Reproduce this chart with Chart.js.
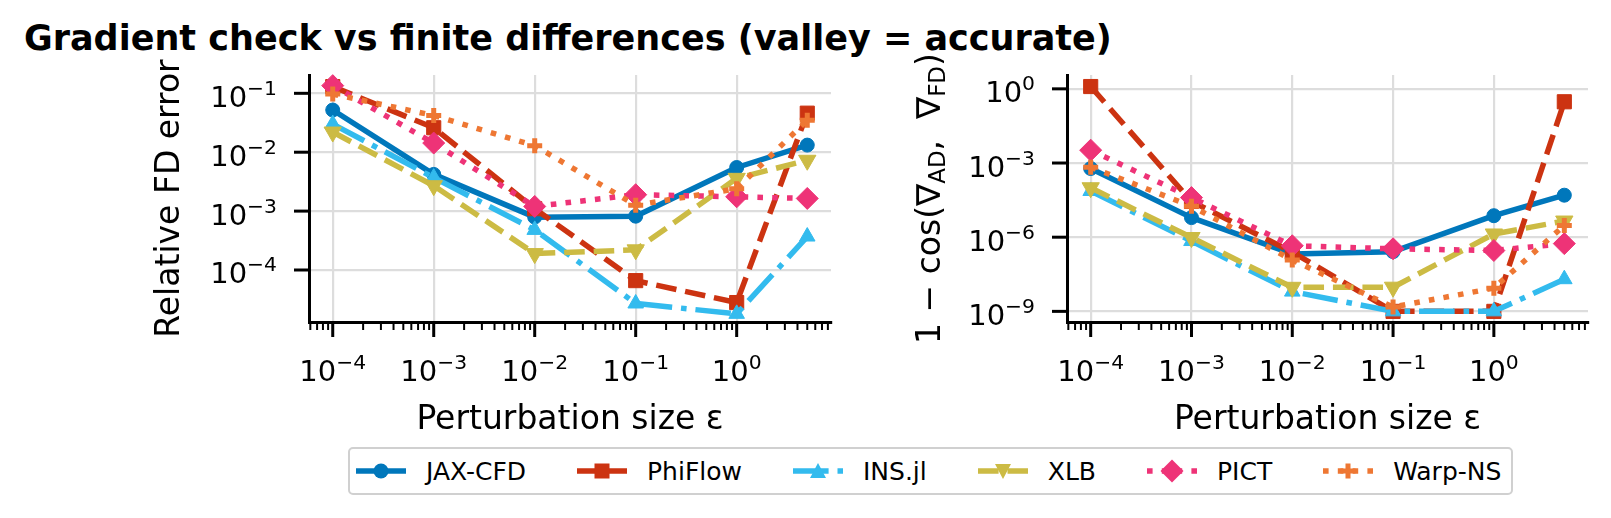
<!DOCTYPE html>
<html>
<head>
<meta charset="utf-8">
<script src="https://cdn.jsdelivr.net/npm/chart.js@4.4.1/dist/chart.umd.min.js"></script>
<style>
html,body{margin:0;padding:0;background:#fff;}
#wrap{position:relative;width:1611px;height:518px;overflow:hidden;font-family:'DejaVu Sans',sans-serif;color:#000;}
#title{position:absolute;left:24px;top:21px;font-size:35px;line-height:35px;font-weight:bold;white-space:nowrap;}
canvas{position:absolute;}
#legend{position:absolute;left:348px;top:447px;height:48px;display:flex;align-items:center;border:2px solid #d0d0d0;border-radius:5px;padding:0 10px 0 6px;box-sizing:border-box;background:#fff;}
.item{display:flex;align-items:center;margin-right:51px;font-size:25px;white-space:nowrap;}
.item:last-child{margin-right:0;}
.item svg{margin-right:20px;display:block;}
</style>
</head>
<body>
<div id="wrap">
  <div id="title">Gradient check vs finite differences (valley = accurate)</div>
  <canvas id="left" width="860" height="440" style="left:0;top:0;width:860px;height:440px;"></canvas>
  <canvas id="right" width="731" height="440" style="left:880px;top:0;width:731px;height:440px;"></canvas>
  <div id="legend"></div>
</div>
<script>
// ---------------- data ----------------
const epsilons = [1e-4, 1e-3, 1e-2, 1e-1, 1, 5];
const seriesNames = ['JAX-CFD', 'PhiFlow', 'INS.jl', 'XLB', 'PICT', 'Warp-NS'];

// Left panel: relative FD error
const jaxFd  = [0.052, 0.0042, 0.00079, 0.00082, 0.0055, 0.0132];
const phiFd  = [0.13, 0.026, 0.0011, 0.000066, 0.000028, 0.046];
const insFd  = [0.030, 0.0037, 0.00048, 0.000027, 0.000018, 0.00037];
const xlbFd  = [0.022, 0.0027, 0.00019, 0.00022, 0.0036, 0.0073];
const pictFd = [0.135, 0.0143, 0.0012, 0.0019, 0.00175, 0.00164];
const warpFd = [0.097, 0.042, 0.0129, 0.00126, 0.0024, 0.035];

// Right panel: 1 - cos(grad_AD, grad_FD)
const jaxCos  = [6e-4, 6.2e-6, 2.1e-7, 2.6e-7, 7.4e-6, 5e-5];
const phiCos  = [1.24, 2.8e-5, 2.5e-7, 1e-9, 1e-9, 0.3];
const insCos  = [7.4e-5, 7e-7, 6.3e-9, 1e-9, 1e-9, 2e-8];
const xlbCos  = [1e-4, 9.7e-7, 9.4e-9, 9.5e-9, 1.35e-6, 4.5e-6];
const pictCos = [3.3e-3, 4e-5, 4.5e-7, 3.4e-7, 2.9e-7, 5.5e-7];
const warpCos = [6.8e-4, 1.8e-5, 1.2e-7, 1.5e-9, 8.7e-9, 3e-6];

// ticks (label = "10" with a superscript exponent)
const tickBase = '10';
const xMajorTicks     = [1e-4, 1e-3, 1e-2, 1e-1, 1];
const xMajorExponents = ['−4', '−3', '−2', '−1', '0'];
const leftYTicks      = [1e-4, 1e-3, 1e-2, 1e-1];
const leftYExponents  = ['−4', '−3', '−2', '−1'];
const rightYTicks     = [1e-9, 1e-6, 1e-3, 1];
const rightYExponents = ['−9', '−6', '−3', '0'];

// text
const titleText = 'Gradient check vs finite differences (valley = accurate)';
const xTitle = 'Perturbation size ε';
const leftYTitle = 'Relative FD error';
const rightYTitleParts = [['1 − cos(∇', 0], ['AD', 1], [',  ∇', 0], ['FD', 1], [')', 0]];

// ---------------- styles ----------------
const FONT = "'DejaVu Sans', sans-serif";
const TICK_PX = 29, EXP_PX = 20.3, LABEL_PX = 33;
const styles = [
  {color:'#0077BB', dash:[],                     point:'circle',   r:7,   rot:0,   pbw:1},
  {color:'#CC3311', dash:[20.6, 8.9],            point:'rect',     r:10,  rot:0,   pbw:1},
  {color:'#33BBEE', dash:[35.6, 8.9, 5.6, 8.9],  point:'triangle', r:9,   rot:0,   pbw:1},
  {color:'#CCBB44', dash:[20.6, 8.9],            point:'triangle', r:10,  rot:180, pbw:1},
  {color:'#EE3377', dash:[5.6, 9.2],             point:'rectRot',  r:11,  rot:0,   pbw:1},
  {color:'#EE7733', dash:[5.6, 9.2],             point:'cross',    r:7.5, rot:0,   pbw:5}
];

const xMin = Math.pow(10, -4.235), xMax = Math.pow(10, 0.934);

function xTickObjs() {
  const out = [];
  for (let e = -5; e <= 0; e++) {
    for (let m = 1; m <= 9; m++) {
      const v = m * Math.pow(10, e);
      if (v >= xMin && v <= xMax) out.push({value: v, major: m === 1});
    }
  }
  return out;
}
function exponentFor(values, exps, v) {
  for (let i = 0; i < values.length; i++) {
    if (Math.abs(Math.log10(v) - Math.log10(values[i])) < 1e-6) return exps[i];
  }
  return null;
}

function buildDatasets(seriesList) {
  return seriesList.map((vals, i) => {
    const s = styles[i];
    return {
      label: seriesNames[i],
      data: epsilons.map((e, k) => ({x: e, y: vals[k]})),
      borderColor: s.color,
      backgroundColor: s.color,
      borderWidth: 5.5,
      borderDash: s.dash,
      borderCapStyle: 'butt',
      borderJoinStyle: 'round',
      pointStyle: s.point,
      pointRadius: s.r,
      pointRotation: s.rot,
      pointBackgroundColor: s.color,
      pointBorderColor: s.color,
      pointBorderWidth: s.pbw,
      pointHoverRadius: s.r,
      tension: 0,
      fill: false,
      clip: 14,
      order: seriesList.length - i
    };
  });
}

// tick marks (major + minor) and "10^n" tick labels, placed with the chart's own scales
function drawPow(ctx, exp, x, baseline, align) {
  ctx.font = TICK_PX + 'px ' + FONT;
  const w1 = ctx.measureText(tickBase).width;
  ctx.font = EXP_PX + 'px ' + FONT;
  const w2 = ctx.measureText(exp).width;
  const total = w1 + w2;
  const start = align === 'center' ? x - total / 2 : x - total;
  ctx.font = TICK_PX + 'px ' + FONT;
  ctx.fillText(tickBase, start, baseline);
  ctx.font = EXP_PX + 'px ' + FONT;
  ctx.fillText(exp, start + w1, baseline - 12);
}

function axisDecor(yTicks, yExps) {
  return {
    id: 'axisDecor',
    afterDraw(chart) {
      const ctx = chart.ctx, a = chart.chartArea;
      const xs = chart.scales.x, ys = chart.scales.y;
      ctx.save();
      ctx.strokeStyle = '#000';
      ctx.fillStyle = '#000';
      ctx.lineCap = 'butt';
      ctx.textAlign = 'left';
      ctx.textBaseline = 'alphabetic';
      xs.ticks.forEach(t => {
        const px = xs.getPixelForValue(t.value);
        ctx.lineWidth = t.major ? 3 : 2;
        ctx.beginPath();
        ctx.moveTo(px, a.bottom);
        ctx.lineTo(px, a.bottom + (t.major ? 15 : 8));
        ctx.stroke();
        const e = exponentFor(xMajorTicks, xMajorExponents, t.value);
        if (e !== null) drawPow(ctx, e, px, a.bottom + 59, 'center');
      });
      ys.ticks.forEach(t => {
        const py = ys.getPixelForValue(t.value);
        ctx.lineWidth = 3;
        ctx.beginPath();
        ctx.moveTo(a.left, py);
        ctx.lineTo(a.left - 15, py);
        ctx.stroke();
        const e = exponentFor(yTicks, yExps, t.value);
        if (e !== null) drawPow(ctx, e, a.left - 32, py + 13.5, 'right');
      });
      ctx.restore();
    }
  };
}

const cosTitle = {
  id: 'cosTitle',
  afterDraw(chart) {
    const ctx = chart.ctx;
    const a = chart.chartArea;
    const cx = 51, cy = (a.top + a.bottom) / 2;
    const big = LABEL_PX, small = 23;
    ctx.save();
    ctx.fillStyle = '#000';
    ctx.textBaseline = 'middle';
    ctx.textAlign = 'left';
    let total = 0;
    const widths = rightYTitleParts.map(([txt, sub]) => {
      ctx.font = (sub ? small : big) + 'px ' + FONT;
      const w = ctx.measureText(txt).width;
      total += w;
      return w;
    });
    ctx.translate(cx, cy);
    ctx.rotate(-Math.PI / 2);
    let x = -total / 2;
    rightYTitleParts.forEach(([txt, sub], i) => {
      ctx.font = (sub ? small : big) + 'px ' + FONT;
      ctx.fillText(txt, x, sub ? 8 : 0);
      x += widths[i];
    });
    ctx.restore();
  }
};

function makeConfig(seriesList, yMin, yMax, yTicks, yExps, yTitleText, yWidth, padding, extraPlugins) {
  return {
    type: 'line',
    data: {datasets: buildDatasets(seriesList)},
    options: {
      responsive: false,
      animation: false,
      devicePixelRatio: 1,
      layout: {padding: padding},
      plugins: {legend: {display: false}, tooltip: {enabled: false}, title: {display: false}},
      scales: {
        x: {
          type: 'logarithmic',
          min: xMin, max: xMax,
          afterBuildTicks: s => { s.ticks = xTickObjs(); },
          afterFit: s => { s.height = 118; },
          ticks: {autoSkip: false, maxRotation: 0, minRotation: 0, callback: () => ''},
          grid: {
            drawTicks: false, lineWidth: 2.2,
            color: c => (c.tick && c.tick.major) ? '#dddddd' : 'rgba(0,0,0,0)'
          },
          border: {display: true, color: '#000', width: 3},
          title: {display: true, text: xTitle, color: '#000', font: {family: FONT, size: LABEL_PX}, padding: {top: 1, bottom: 0}}
        },
        y: {
          type: 'logarithmic',
          min: yMin, max: yMax,
          afterBuildTicks: s => { s.ticks = yTicks.map(v => ({value: v, major: true})); },
          afterFit: s => { s.width = yWidth; },
          ticks: {autoSkip: false, callback: () => ''},
          grid: {drawTicks: false, lineWidth: 2.2, color: '#dddddd'},
          border: {display: true, color: '#000', width: 3},
          title: {display: !!yTitleText, text: yTitleText || '', color: '#000', font: {family: FONT, size: LABEL_PX}, padding: {top: 1, bottom: 0}}
        }
      }
    },
    plugins: [axisDecor(yTicks, yExps)].concat(extraPlugins)
  };
}

new Chart(document.getElementById('left'), makeConfig(
  [jaxFd, phiFd, insFd, xlbFd, pictFd, warpFd],
  Math.pow(10, -4.883), Math.pow(10, -0.689),
  leftYTicks, leftYExponents, leftYTitle, 159,
  {left: 150, top: 75, right: 29, bottom: 0},
  []
));

new Chart(document.getElementById('right'), makeConfig(
  [jaxCos, phiCos, insCos, xlbCos, pictCos, warpCos],
  Math.pow(10, -9.43), Math.pow(10, 0.56),
  rightYTicks, rightYExponents, '', 187,
  {left: 0, top: 75, right: 23, bottom: 0},
  [cosTitle]
));

// ---------------- legend (HTML) ----------------
function markerSvg(s) {
  const cx = 25, cy = 15, c = s.color;
  switch (s.point) {
    case 'circle': return `<circle cx="${cx}" cy="${cy}" r="7.5" fill="${c}"/>`;
    case 'rect': return `<rect x="${cx-7.5}" y="${cy-7.5}" width="15" height="15" fill="${c}"/>`;
    case 'triangle':
      if (s.rot === 180) return `<polygon points="${cx-8},${cy-7} ${cx+8},${cy-7} ${cx},${cy+8}" fill="${c}"/>`;
      return `<polygon points="${cx-8},${cy+7} ${cx+8},${cy+7} ${cx},${cy-8}" fill="${c}"/>`;
    case 'rectRot': return `<polygon points="${cx},${cy-11.5} ${cx+11.5},${cy} ${cx},${cy+11.5} ${cx-11.5},${cy}" fill="${c}"/>`;
    case 'cross': return `<rect x="${cx-2.5}" y="${cy-7.5}" width="5" height="15" fill="${c}"/><rect x="${cx-7.5}" y="${cy-2.5}" width="15" height="5" fill="${c}"/>`;
  }
  return '';
}
const legend = document.getElementById('legend');
seriesNames.forEach((name, i) => {
  const s = styles[i];
  const item = document.createElement('div');
  item.className = 'item';
  const dash = s.dash.length ? `stroke-dasharray="${s.dash.join(' ')}"` : '';
  item.innerHTML = `<svg width="50" height="30" viewBox="0 0 50 30"><line x1="0" y1="15" x2="50" y2="15" stroke="${s.color}" stroke-width="5.5" ${dash}/>${markerSvg(s)}</svg><span>${name}</span>`;
  legend.appendChild(item);
});
</script>
</body>
</html>
